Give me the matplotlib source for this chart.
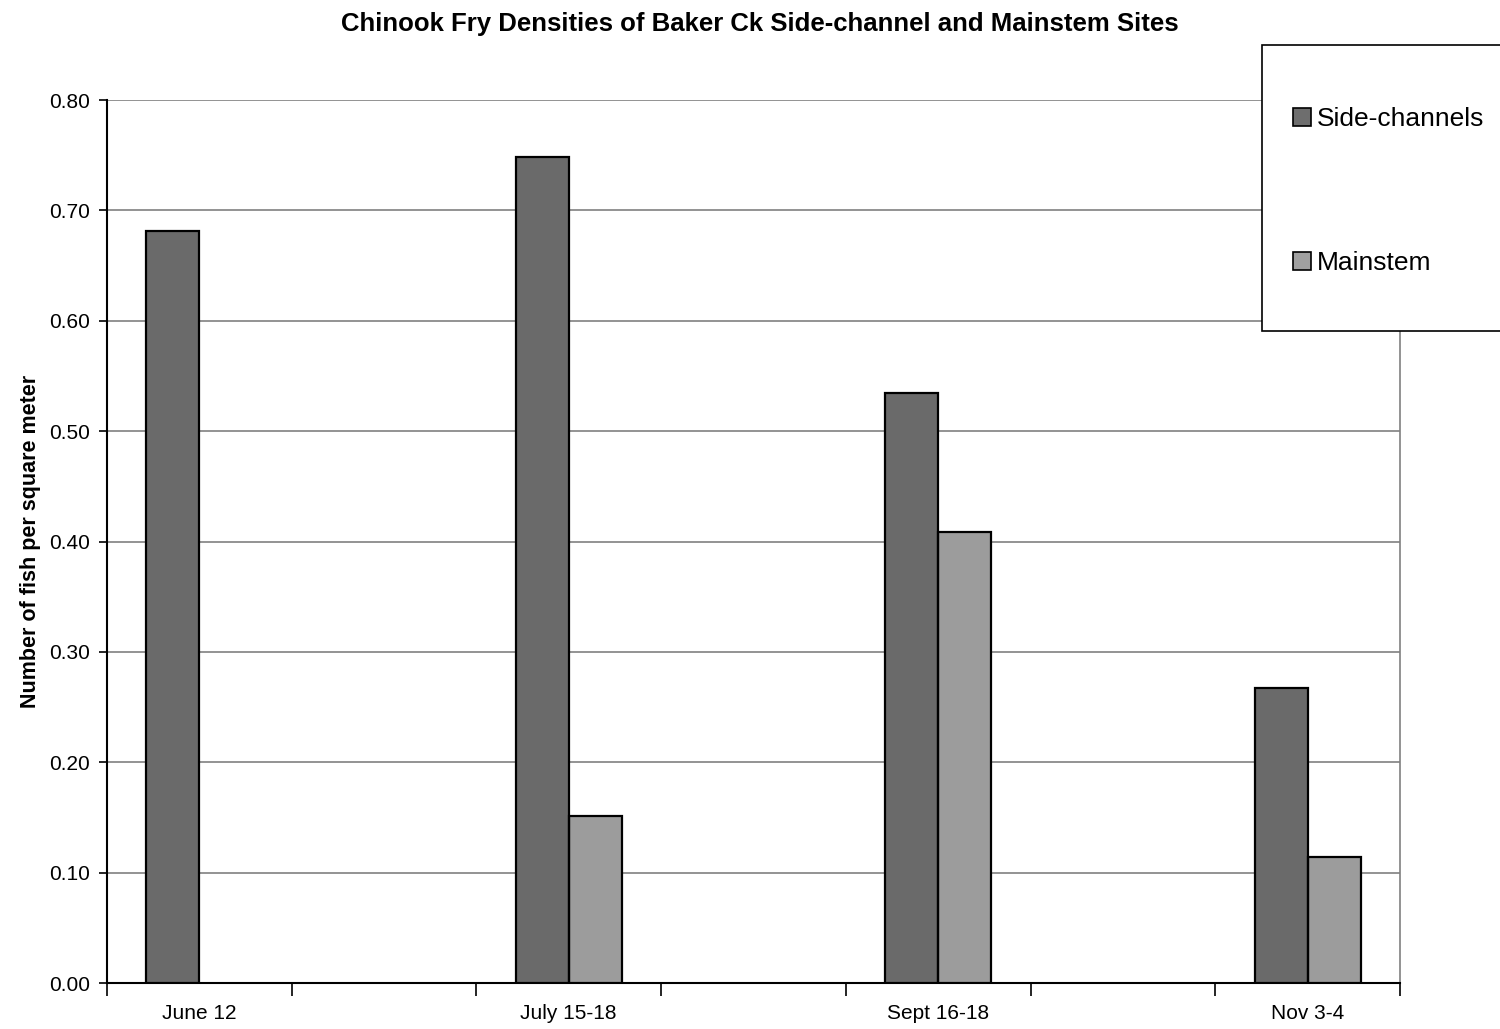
import numpy as np
import matplotlib.pyplot as plt
from matplotlib.patches import Rectangle

plt.rcParams['font.family'] = ['Liberation Sans', 'DejaVu Sans']
plt.rcParams['hatch.linewidth'] = 0.5

# Datos (peces por metro cuadrado)
fechas = ['June 12', '', 'July 15-18', '', 'Sept 16-18', '', 'Nov 3-4']
side_channels = [0.681, np.nan, 0.748, np.nan, 0.535, np.nan, 0.267]
mainstem = [np.nan, np.nan, 0.151, np.nan, 0.409, np.nan, 0.114]
yticks = [0.0, 0.1, 0.2, 0.3, 0.4, 0.5, 0.6, 0.7, 0.8]

fig = plt.figure(figsize=(15, 10.29), dpi=100)
ax = fig.add_axes([0.0713, 0.0447, 0.8620, 0.8581])

x = np.arange(len(fechas))
w = 0.287

def barras(pos, vals, color, rayas, color_rayas):
    # relleno con rayas y luego el borde negro encima
    ax.bar(pos, vals, w, color=color, edgecolor=color_rayas, linewidth=0,
           hatch=rayas, zorder=3)
    ax.bar(pos, vals, w, facecolor='none', edgecolor='black', linewidth=1.6,
           zorder=4)

color_side = '#7c7c7c'
color_main = '#adadad'
barras(x - w / 2, side_channels, color_side, '|' * 24, '#6a6a6a')
barras(x + w / 2, mainstem, color_main, '-' * 24, '#9c9c9c')

ax.set_xlim(-0.5, len(fechas) - 0.5)
ax.set_ylim(0, 0.8)
ax.set_yticks(yticks)
ax.set_yticklabels(['%.2f' % v for v in yticks], fontsize=15)
ax.yaxis.grid(True, color='#808080', linewidth=1.2, zorder=0)

ax.set_xticks(x)
ax.set_xticklabels(fechas, fontsize=15)
ax.set_xticks(np.arange(len(fechas) + 1) - 0.5, minor=True)
ax.tick_params(axis='x', which='major', length=0, pad=15)
ax.tick_params(axis='x', which='minor', length=9, width=1.2, color='black')
ax.tick_params(axis='y', length=6, width=1.2, pad=6)

for lado in ['left', 'bottom']:
    ax.spines[lado].set_linewidth(1.5)
ax.spines['top'].set_visible(False)
ax.spines['right'].set_color('#808080')
ax.spines['right'].set_linewidth(1.2)

ax.set_ylabel('Number of fish per square meter', fontsize=15.5,
              fontweight='bold', labelpad=6)
fig.text(0.5067, 0.977, 'Chinook Fry Densities of Baker Ck Side-channel and Mainstem Sites',
         ha='center', va='center', fontsize=18.5, fontweight='bold')

# Caja de la leyenda
fig.patches.append(Rectangle((1262 / 1500, 1 - 331 / 1029), 0.17, 286 / 1029,
                             transform=fig.transFigure, facecolor='white',
                             edgecolor='black', linewidth=1.2, zorder=5))
h1 = Rectangle((0, 0), 1, 1, facecolor='#6e6e6e', edgecolor='black', linewidth=1.2)
h2 = Rectangle((0, 0), 1, 1, facecolor='#a0a0a0', edgecolor='black', linewidth=1.2)
leg = fig.legend([h1, h2], ['Side-channels', 'Mainstem'], frameon=False,
                 loc='upper left', bbox_to_anchor=(1293 / 1500, 1 - 107 / 1029),
                 borderpad=0, borderaxespad=0, fontsize=19, handlelength=0.7,
                 handleheight=0.7, handletextpad=0.2, labelspacing=4.55)
leg.set_zorder(6)

fig.savefig('out.png', dpi=100)
